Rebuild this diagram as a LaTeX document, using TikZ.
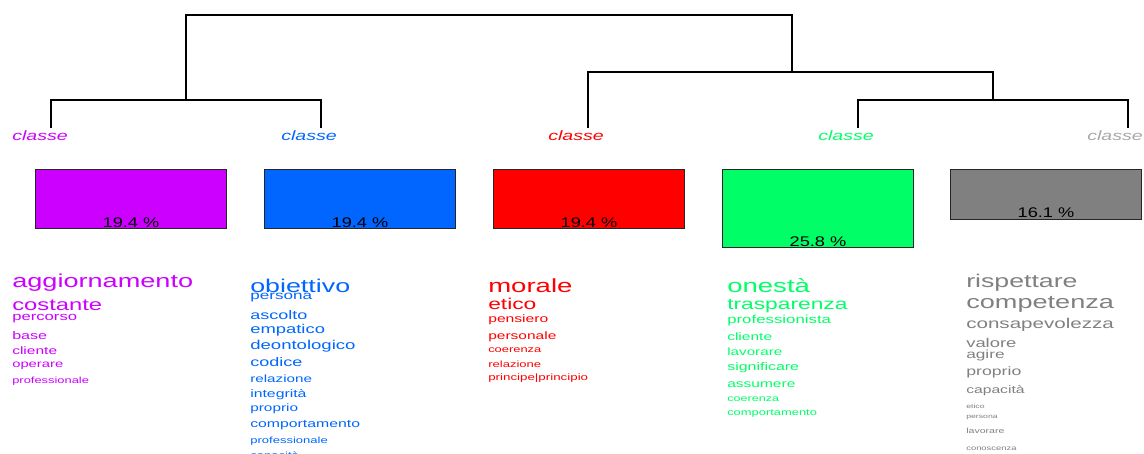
\documentclass[tikz,border=0pt]{standalone}
\usepackage{fontspec}
\setmainfont{Liberation Sans}
\definecolor{clpurple}{HTML}{CC00FF}
\definecolor{clblue}{HTML}{0066FF}
\definecolor{clred}{HTML}{FF0000}
\definecolor{clgreen}{HTML}{00FF66}
\definecolor{clgray}{HTML}{808080}
\definecolor{cllight}{HTML}{A8A8A8}
\tikzset{
  word/.style={anchor=base west,inner sep=0pt,xscale=1.45,transform shape,font=\fontsize{#1}{#1}\selectfont},
  pct/.style={anchor=base,inner sep=0pt,xscale=1.3,transform shape,text=black,font=\fontsize{14}{14}\selectfont},
  classbox/.style={rectangle,draw=black!85,line width=1pt,minimum width=191pt,inner sep=0pt},
  leaf/.style={anchor=base,inner sep=0pt,xscale=1.45,transform shape,font=\fontsize{13.5}{13.5}\selectfont\itshape}
}
\begin{document}
\begin{tikzpicture}[x=1pt,y=-1pt]
\useasboundingbox (0,0) rectangle (1144,454);
			% dendrogram
			\begin{scope}[line width=1.2pt]
				\coordinate (l1) at (51,128);
				\coordinate (l2) at (321,128);
				\coordinate (l3) at (588,128);
				\coordinate (l4) at (858,128);
				\coordinate (l5) at (1128,128);
				\coordinate (j12) at (186,100);
				\coordinate (j45) at (993,100);
				\coordinate (j345) at (792,72);
				\coordinate (root) at (186,15);
				\draw (l1) |- (j12) -| (l2);
				\draw (l4) |- (j45) -| (l5);
				\draw (l3) |- (j345) -| (j45);
				\draw (j12) -- (root) -| (j345);
			\end{scope}
			\begin{scope}[]
	    		\node [leaf,text=clpurple] (k1) at (40,141) {classe};
	    		\node [leaf,text=clblue] (k2) at (309,141) {classe};
	    		\node [leaf,text=clred] (k3) at (576,141) {classe};
	    		\node [leaf,text=clgreen] (k4) at (846,141) {classe};
	    		\node [leaf,text=cllight] (k5) at (1115,141) {classe};
			\end{scope}
			% boxes
			\begin{scope}[every node/.style={classbox}]
	    		\node [fill=clpurple,minimum height=59pt] (b1) at (131,199.5) {};
	    		\node [fill=clblue,minimum height=59pt] (b2) at (360,199.5) {};
	    		\node [fill=clred,minimum height=59pt] (b3) at (589,199.5) {};
	    		\node [fill=clgreen,minimum height=78pt] (b4) at (818,209) {};
	    		\node [fill=clgray,minimum height=50pt] (b5) at (1046,195) {};
			\end{scope}
			\begin{scope}[]
	    		\node [pct] (t1) at (131,228) {19.4 \%};
	    		\node [pct] (t2) at (360,228) {19.4 \%};
	    		\node [pct] (t3) at (589,228) {19.4 \%};
	    		\node [pct] (t4) at (818,247) {25.8 \%};
	    		\node [pct] (t5) at (1046,218) {16.1 \%};
			\end{scope}
			% words
			\begin{scope}[color=clpurple]
	    		\node [word=18.7] (p1) at (12,288) {aggiornamento};
	    		\node [word=16.4] (p2) at (12,311) {costante};
	    		\node [word=11.5] (p3) at (12,321) {percorso};
	    		\node [word=11.1] (p4) at (12,340) {base};
	    		\node [word=10.7] (p5) at (12,355) {cliente};
	    		\node [word=10.2] (p6) at (12,368) {operare};
	    		\node [word=8.9] (p7) at (12,384) {professionale};
			\end{scope}
			\begin{scope}[color=clblue]
	    		\node [word=18.5] (u1) at (250,293) {obiettivo};
	    		\node [word=11.8] (u2) at (250,300) {persona};
	    		\node [word=12.4] (u3) at (250,320) {ascolto};
	    		\node [word=12.7] (u4) at (250,334) {empatico};
	    		\node [word=12.8] (u5) at (250,350) {deontologico};
	    		\node [word=12.4] (u6) at (250,367) {codice};
	    		\node [word=10.5] (u7) at (250,383) {relazione};
	    		\node [word=10.9] (u8) at (250,398) {integrità};
	    		\node [word=10.6] (u9) at (250,412) {proprio};
	    		\node [word=10.9] (u10) at (250,428) {comportamento};
	    		\node [word=9] (u11) at (250,443) {professionale};
	    		\node [word=9] (u12) at (250,458) {capacità};
			\end{scope}
			\begin{scope}[color=clred]
	    		\node [word=19] (r1) at (488,293) {morale};
	    		\node [word=15.7] (r2) at (488,310) {etico};
	    		\node [word=10.8] (r3) at (488,323) {pensiero};
	    		\node [word=10.7] (r4) at (488,340) {personale};
	    		\node [word=8.9] (r5) at (488,353) {coerenza};
	    		\node [word=9] (r6) at (488,368) {relazione};
	    		\node [word=9.2] (r7) at (488,381) {principe|principio};
			\end{scope}
			\begin{scope}[color=clgreen]
	    		\node [word=19] (g1) at (727,293) {onestà};
	    		\node [word=15.7] (g2) at (727,310) {trasparenza};
	    		\node [word=11.6] (g3) at (727,324) {professionista};
	    		\node [word=10.7] (g4) at (727,341) {cliente};
	    		\node [word=10.5] (g5) at (727,356) {lavorare};
	    		\node [word=11] (g6) at (727,371) {significare};
	    		\node [word=10.7] (g7) at (727,388) {assumere};
	    		\node [word=8.7] (g8) at (727,402) {coerenza};
	    		\node [word=8.9] (g9) at (727,416) {comportamento};
			\end{scope}
			\begin{scope}[color=clgray]
	    		\node [word=18.4] (s1) at (966,288) {rispettare};
	    		\node [word=18.7] (s2) at (966,309) {competenza};
	    		\node [word=14.2] (s3) at (966,329) {consapevolezza};
	    		\node [word=12.7] (s4) at (966,348) {valore};
	    		\node [word=11.9] (s5) at (966,359) {agire};
	    		\node [word=12.2] (s6) at (966,376) {proprio};
	    		\node [word=10.8] (s7) at (966,394) {capacità};
	    		\node [word=6] (s8) at (966,409) {etico};
	    		\node [word=6] (s9) at (966,419) {persona};
	    		\node [word=7.3] (s10) at (966,433) {lavorare};
	    		\node [word=6.5] (s11) at (966,450) {conoscenza};
			\end{scope}
		\end{tikzpicture}
\end{document}
